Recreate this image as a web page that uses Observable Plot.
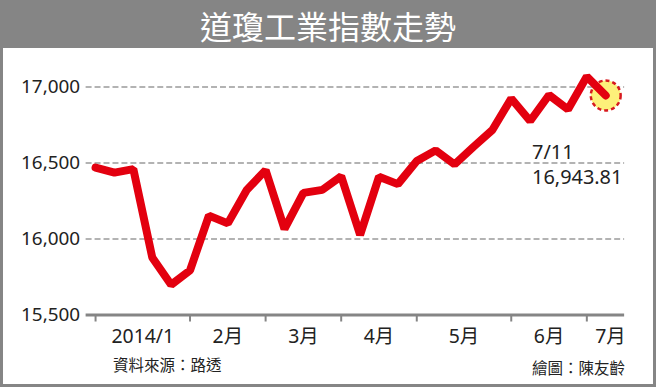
<!DOCTYPE html>
<html>
<head>
<meta charset="utf-8">
<script src="https://cdn.jsdelivr.net/npm/d3@7"></script>
<script src="https://cdn.jsdelivr.net/npm/@observablehq/plot@0.6"></script>
<style>
  html, body { margin: 0; padding: 0; background: #fff; }
  #wrap { position: relative; width: 656px; height: 387px; box-sizing: border-box; border: 3px solid #858585; overflow: hidden; }
  #title { position: absolute; left: 0; top: 0; width: 100%; height: 45px; background: #858585; color: #fff;
           font-family: "Noto Sans CJK TC", sans-serif; font-size: 32px; line-height: 45px; text-align: center; }
  #chart { position: absolute; left: -3px; top: -3px; }
  .foot { position: absolute; font-family: "Noto Sans CJK TC", sans-serif; font-size: 15.5px; color: #222; line-height: 18px; }
</style>
</head>
<body>
<div id="wrap">
  <div id="title"></div>
  <div id="chart"></div>
  <div class="foot" id="src" style="left:110px; top:352px;"></div>
  <div class="foot" id="credit" style="right:28px; top:355px;"></div>
</div>
<script>
const titleText = "道瓊工業指數走勢";
const sourceText = "資料來源：路透";
const creditText = "繪圖：陳友齡";

// weekly closes, 2014
const dates = ["1/3","1/10","1/17","1/24","1/31","2/7","2/14","2/21","2/28","3/7","3/14","3/21","3/28",
  "4/4","4/11","4/17","4/25","5/2","5/9","5/16","5/23","5/30","6/6","6/13","6/20","6/27","7/3","7/11"];
const values = [16470, 16437, 16459, 15879, 15699, 15794, 16154, 16103, 16322, 16453, 16066, 16303, 16323,
  16413, 16027, 16409, 16361, 16513, 16583, 16491, 16606, 16717, 16924, 16776, 16947, 16852, 17068, 16943.81];

const yTicks = [15500, 16000, 16500, 17000];
const gridValues = [16000, 16500, 17000];
const monthLabels = ["2014/1", "2月", "3月", "4月", "5月", "6月", "7月"];
const monthStarts = [0, 5, 9, 13, 17, 22, 26]; // index of first week of each month
const annotation = "7/11\n16,943.81";

const data = values.map((v, i) => ({i, date: dates[i], value: v}));
const monthEnds = monthStarts.slice(1).concat([values.length + 0.5]);
const monthMids = monthStarts.map((s, k) => (s + monthEnds[k]) / 2);
const last = data[data.length - 1];

document.getElementById("title").textContent = titleText;
document.getElementById("src").textContent = sourceText;
document.getElementById("credit").textContent = creditText;

const font = '"Noto Sans", "Noto Sans CJK TC", sans-serif';

const chart = Plot.plot({
  width: 656,
  height: 387,
  marginLeft: 86,
  marginRight: 29,
  marginTop: 41,
  marginBottom: 71,
  style: {background: "transparent", fontFamily: font, color: "#222", overflow: "visible"},
  x: {domain: [-0.5, 28], axis: null},
  y: {domain: [15500, 17300], axis: null},
  marks: [
    Plot.ruleY(gridValues, {stroke: "#9a9a9a", strokeWidth: 1.5, strokeDasharray: "6,3"}),
    Plot.axisY(yTicks, {label: null, tickSize: 0, tickPadding: 6, tickFormat: d3.format(","), fontSize: 19, fill: "#222"}),
    Plot.ruleY([15500], {stroke: "#858585", strokeWidth: 3}),
    Plot.axisX(monthStarts, {label: null, tickSize: 7, tickFormat: () => "", stroke: "#858585", strokeWidth: 2}),
    Plot.text(monthLabels, {x: (d, k) => monthMids[k], text: d => d, frameAnchor: "bottom",
      lineAnchor: "middle", dy: 22, fontSize: 19.5, fill: "#222"}),
    Plot.dot([last], {x: "i", y: "value", r: 15, fill: "#fdf07a", stroke: "#d7191f",
      strokeWidth: 2.5, strokeDasharray: "4,3"}),
    Plot.line(data, {x: "i", y: "value", stroke: "#e3000f", strokeWidth: 8,
      strokeLinejoin: "miter", strokeLinecap: "round"}),
    Plot.text([last], {x: "i", y: "value", text: () => annotation, textAnchor: "start",
      lineAnchor: "top", dx: -74, dy: 46, fontSize: 20, lineHeight: 1.25, fill: "#222"})
  ]
});
document.getElementById("chart").appendChild(chart);
</script>
</body>
</html>
